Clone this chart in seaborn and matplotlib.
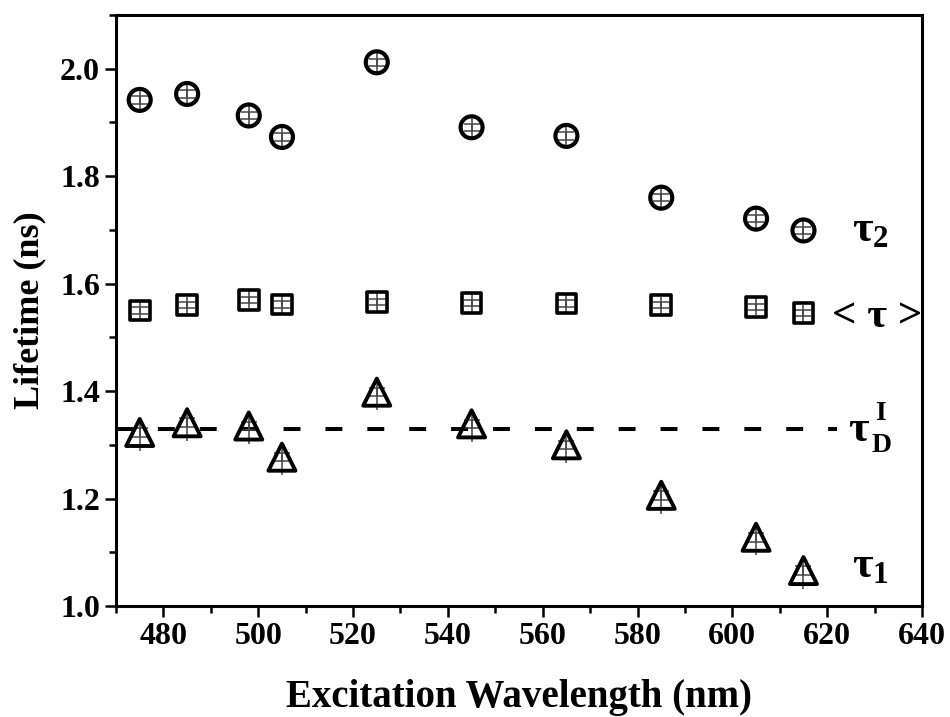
import numpy as np
import pandas as pd
import matplotlib
matplotlib.use("Agg")
import matplotlib.pyplot as plt
import seaborn as sns
from matplotlib.ticker import MultipleLocator

# ---- data ----
wavelength = [475, 485, 498, 505, 525, 545, 565, 585, 605, 615]
tau2 = [1.942, 1.953, 1.913, 1.873, 2.012, 1.891, 1.875, 1.760, 1.721, 1.699]
tau_avg = [1.550, 1.560, 1.570, 1.561, 1.566, 1.564, 1.563, 1.560, 1.557, 1.545]
tau1 = [1.323, 1.341, 1.335, 1.277, 1.398, 1.339, 1.300, 1.206, 1.128, 1.066]
# error bars: short capped part and longer uncapped whisker
cap2 = [0.007] * 10
whisk2 = [0.019] * 10
cap_avg = [0.006] * 10
whisk_avg = [0.016] * 10
cap1 = [0.008] * 10
whisk1_lo = [0.034] * 10
whisk1_hi = [0.020] * 10
tau_D = 1.33
tau_D_xrange = (470, 622)

xticks = [480, 500, 520, 540, 560, 580, 600, 620, 640]
yticks = [1.0, 1.2, 1.4, 1.6, 1.8, 2.0]

sns.set_theme(style="white")
plt.rcParams['font.family'] = ['Liberation Serif', 'DejaVu Serif']
plt.rcParams['font.weight'] = 'bold'
plt.rcParams['text.color'] = 'black'
plt.rcParams['axes.labelcolor'] = 'black'
plt.rcParams['xtick.color'] = 'black'
plt.rcParams['ytick.color'] = 'black'
plt.rcParams['mathtext.fontset'] = 'custom'
plt.rcParams['mathtext.rm'] = 'Liberation Serif:bold'
plt.rcParams['mathtext.it'] = 'Liberation Serif:bold'
plt.rcParams['mathtext.bf'] = 'Liberation Serif:bold'

df = pd.DataFrame({"wl": wavelength, "tau2": tau2, "tavg": tau_avg, "tau1": tau1})

fig = plt.figure(figsize=(9.5, 7.17), dpi=100)
ax = fig.add_axes([116/950, 1-606/717, (922-116)/950, (606-15)/717])

# dashed reference line
ax.hlines(tau_D, tau_D_xrange[0], tau_D_xrange[1], colors='black', lw=2.9,
          linestyles=[(0, (4.2, 6.2))], zorder=1)

# error bars (thin gray)
ecol = '#444444'
for col, cap, whisk in (("tau2", cap2, [whisk2, whisk2]),
                        ("tavg", cap_avg, [whisk_avg, whisk_avg]),
                        ("tau1", cap1, [whisk1_lo, whisk1_hi])):
    ax.errorbar(df["wl"], df[col], yerr=whisk, fmt='none', ecolor=ecol,
                elinewidth=1.1, capsize=0, zorder=3)
    ax.errorbar(df["wl"], df[col], yerr=cap, fmt='none', ecolor=ecol,
                elinewidth=1.1, capsize=5.5, capthick=1.1, zorder=3)

sns.scatterplot(data=df, x="wl", y="tau2", marker='o', s=250, facecolor='none',
                edgecolor='black', linewidth=3.0, ax=ax, zorder=4)
sns.scatterplot(data=df, x="wl", y="tavg", marker='s', s=200, facecolor='none',
                edgecolor='black', linewidth=2.6, ax=ax, zorder=4)
sns.scatterplot(data=df, x="wl", y="tau1", marker='^', s=380, facecolor='none',
                edgecolor='black', linewidth=2.8, ax=ax, zorder=4)

ax.set_xlim(470, 640)
ax.set_ylim(1.0, 2.1)
ax.set_xticks(xticks)
ax.set_yticks(yticks)
ax.set_xticklabels([str(v) for v in xticks])
ax.set_yticklabels([f"{v:.1f}" for v in yticks])
ax.xaxis.set_minor_locator(MultipleLocator(10))
ax.yaxis.set_minor_locator(MultipleLocator(0.1))
ax.tick_params(axis='both', which='major', direction='out', length=8, width=1.8,
               labelsize=23, color='black', bottom=True, left=True, top=False, right=False)
ax.tick_params(axis='both', which='minor', direction='out', length=5, width=1.8,
               color='black', bottom=True, left=True, top=False, right=False)
for lab in ax.get_xticklabels() + ax.get_yticklabels():
    lab.set_fontweight('bold')

for sp in ax.spines.values():
    sp.set_visible(True)
    sp.set_color('black')
    sp.set_linewidth(2.2)

ax.set_xlabel("Excitation Wavelength (nm)", fontsize=28, fontweight='bold', labelpad=20)
ax.set_ylabel("Lifetime (ns)", fontsize=26, fontweight='bold', labelpad=10)

# series labels
ax.text(629, 1.70, r'$\tau_{2}$', fontsize=32, ha='center', va='center')
ax.text(630.5, 1.538, '< τ >', fontsize=31, ha='center', va='center', fontweight='bold')
ax.text(626.6, 1.328, 'τ', fontsize=32, ha='center', va='center', fontweight='bold')
ax.text(631.2, 1.358, 'I', fontsize=20, ha='center', va='center', fontweight='bold')
ax.text(631.4, 1.298, 'D', fontsize=20, ha='center', va='center', fontweight='bold')
ax.text(629, 1.075, r'$\tau_{1}$', fontsize=32, ha='center', va='center')

fig.savefig("out.png", dpi=100, facecolor='white')
